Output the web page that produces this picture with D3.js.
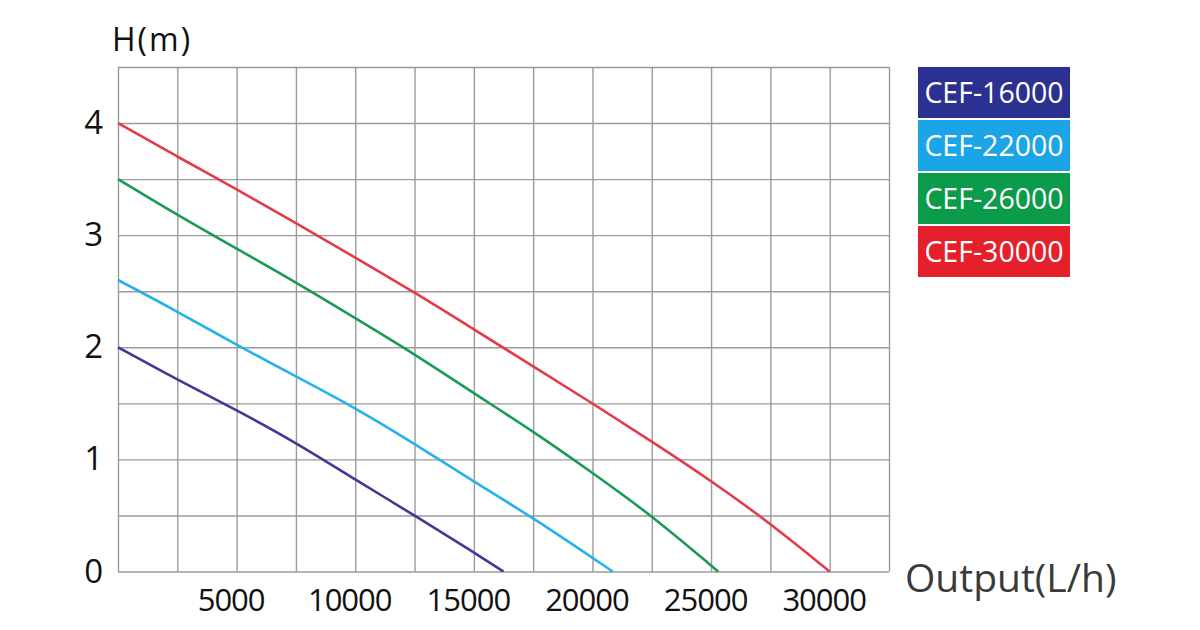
<!DOCTYPE html>
<html>
<head>
<meta charset="utf-8">
<script src="https://cdn.jsdelivr.net/npm/d3@7"></script>
<style>
	body { margin: 0; background: #fff; }
	svg { display: block; font-family: 'Open Sans', sans-serif; }
</style>
</head>
<body>
<div id="chart"></div>
<script>
// series names and colours
const seriesNames = ['CEF-16000', 'CEF-22000', 'CEF-26000', 'CEF-30000'];
const legendColors = ['#2b3190', '#1ba4e6', '#0b9b4b', '#e6202a'];
const lineColors = ['#3f3a94', '#27b2ea', '#1c9a55', '#e23b4b'];

// flow (L/h) and head (m)
const flow16000 = [0, 2500, 5000, 7500, 10000, 12500, 15000, 16250];
const head16000 = [2.0, 1.71, 1.44, 1.15, 0.82, 0.50, 0.17, 0];
const flow22000 = [0, 2500, 5000, 7500, 10000, 12500, 15000, 17500, 20850];
const head22000 = [2.6, 2.32, 2.02, 1.74, 1.46, 1.14, 0.80, 0.48, 0];
const flow26000 = [0, 2500, 5000, 7500, 10000, 12500, 15000, 17500, 20000, 22500, 25300];
const head26000 = [3.5, 3.18, 2.88, 2.58, 2.26, 1.94, 1.59, 1.25, 0.88, 0.50, 0];
const flow30000 = [0, 2500, 5000, 7500, 10000, 12500, 15000, 17500, 20000, 22500, 25000, 27500, 30000];
const head30000 = [4.0, 3.70, 3.41, 3.11, 2.80, 2.49, 2.16, 1.83, 1.50, 1.16, 0.81, 0.43, 0];

const xTickLabels = [5000, 10000, 15000, 20000, 25000, 30000];
const yTickLabels = [0, 1, 2, 3, 4];

const flows = [flow16000, flow22000, flow26000, flow30000];
const heads = [head16000, head22000, head26000, head30000];
const series = seriesNames.map((name, i) => ({
	name: name,
	color: lineColors[i],
	legend: legendColors[i],
	points: flows[i].map((f, j) => ({ q: f, h: heads[i][j] }))
}));

const W = 1200, H = 630;
const svg = d3.select('#chart').append('svg')
	.attr('width', W)
	.attr('height', H);

const xScale = d3.scaleLinear().domain([0, 32500]).range([118, 889]);
const yScale = d3.scaleLinear().domain([0, 4.5]).range([571.5, 67]);

// grid lines
svg.append('g')
	.attr('class', 'grid')
	.attr('transform', `translate(0, ${yScale(0)})`)
	.call(d3.axisBottom(xScale)
		.tickValues(d3.range(0, 32501, 2500))
		.tickSize(-(yScale(0) - yScale(4.5)))
		.tickFormat(''));

svg.append('g')
	.attr('class', 'grid')
	.attr('transform', `translate(${xScale(0)}, 0)`)
	.call(d3.axisLeft(yScale)
		.tickValues(d3.range(0, 4.51, 0.5))
		.tickSize(-(xScale(32500) - xScale(0)))
		.tickFormat(''));

svg.selectAll('.grid path').remove();
svg.selectAll('.grid .tick line')
	.style('stroke', '#9a9a9a')
	.style('stroke-width', 1.4);

// axis labels
const xAxis = svg.append('g')
	.attr('transform', `translate(-6, ${yScale(0)})`)
	.call(d3.axisBottom(xScale)
		.tickValues(xTickLabels)
		.tickSize(0)
		.tickPadding(17)
		.tickFormat(d3.format('d')));

const yAxis = svg.append('g')
	.attr('transform', `translate(${xScale(0)}, 0)`)
	.call(d3.axisLeft(yScale)
		.tickValues(yTickLabels)
		.tickSize(0)
		.tickPadding(15)
		.tickFormat(d3.format('d')));

svg.selectAll('.domain').remove();
xAxis.selectAll('text')
	.style('font-family', "'Open Sans', sans-serif")
	.style('font-size', '31px')
	.style('letter-spacing', '-1px')
	.style('fill', '#111');
yAxis.selectAll('text')
	.style('font-family', "'Open Sans', sans-serif")
	.style('font-size', '33px')
	.style('fill', '#111');

// curves
const line = d3.line()
	.x(d => xScale(d.q))
	.y(d => yScale(d.h))
	.curve(d3.curveBasis);

svg.append('g').selectAll('path')
	.data(series)
	.enter()
	.append('path')
	.attr('d', d => line(d.points))
	.attr('fill', 'none')
	.attr('stroke', d => d.color)
	.attr('stroke-width', 2.6);

// titles
svg.append('text')
	.attr('x', 112)
	.attr('y', 51)
	.style('font-size', '32px')
	.style('letter-spacing', '2px')
	.style('fill', '#111')
	.text('H(m)');

svg.append('text')
	.attr('x', 905)
	.attr('y', 592)
	.style('font-size', '39px')
	.style('fill', '#3a3a3a')
	.text('Output(L/h)');

// legend boxes
const legend = svg.append('g').selectAll('g')
	.data(series)
	.enter()
	.append('g')
	.attr('transform', (d, i) => `translate(918, ${67 + i * 53})`);

legend.append('rect')
	.attr('width', 152)
	.attr('height', 51)
	.attr('fill', d => d.legend);

legend.append('text')
	.attr('x', 76)
	.attr('y', 26)
	.attr('dy', '0.36em')
	.attr('text-anchor', 'middle')
	.style('font-size', '28.5px')
	.style('fill', '#fff')
	.text(d => d.name);
</script>
</body>
</html>
